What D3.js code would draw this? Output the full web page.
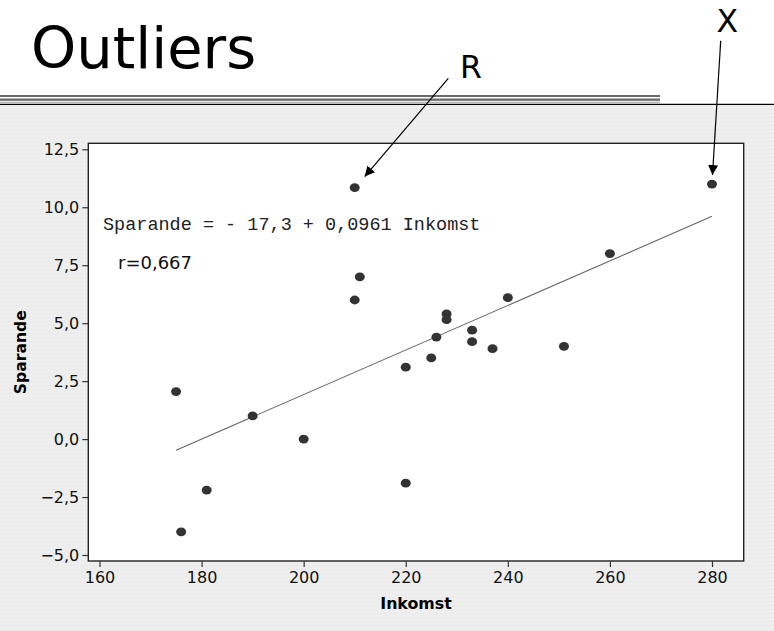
<!DOCTYPE html>
<html>
<head>
<meta charset="utf-8">
<script src="https://cdn.jsdelivr.net/npm/d3@7"></script>
<style>
  html, body { margin: 0; padding: 0; background: #fff; }
  svg { display: block; }
</style>
</head>
<body>
<div id="chart"></div>
<script>
// data
var inkomst  = [175, 190, 181, 176, 200, 220, 220, 210, 211, 210, 228, 228, 226, 233, 233, 237, 225, 240, 260, 251, 280];
var sparande = [2.05, 1.0, -2.2, -4.0, 0.0, -1.9, 3.1, 10.85, 7.0, 6.0, 5.4, 5.15, 4.4, 4.7, 4.2, 3.9, 3.5, 6.1, 8.0, 4.0, 11.0];
var xTicks = [160, 180, 200, 220, 240, 260, 280];
var yTicks = [-5, -2.5, 0, 2.5, 5, 7.5, 10, 12.5];
var intercept = -17.3, slope = 0.0961;
var fitRange = [175, 280];
// outliers pointed at by the arrows
var outliers = [{label: 'R', x: 210, y: 10.85}, {label: 'X', x: 280, y: 11.0}];

var W = 774, H = 631;
var fmt = function (v) { return d3.format('.1f')(v).replace('.', ','); };

var svg = d3.select('#chart').append('svg')
  .attr('width', W).attr('height', H);

var defs = svg.append('defs');
var pat = defs.append('pattern').attr('id', 'dots')
  .attr('width', 4).attr('height', 4).attr('patternUnits', 'userSpaceOnUse');
pat.append('rect').attr('width', 4).attr('height', 4).attr('fill', '#eeeeee');
pat.append('rect').attr('x', 1).attr('y', 1).attr('width', 1).attr('height', 1).attr('fill', '#e4e4e4');
defs.append('marker').attr('id', 'arrow')
  .attr('viewBox', '0 0 10 10').attr('refX', 10).attr('refY', 5)
  .attr('markerWidth', 10).attr('markerHeight', 10)
  .attr('markerUnits', 'userSpaceOnUse')
  .attr('orient', 'auto')
  .append('path').attr('d', 'M0,0 L10,5 L0,10 Z').attr('fill', '#000');

// slide background
svg.append('rect').attr('width', W).attr('height', H).attr('fill', '#fff');
svg.append('rect').attr('y', 105).attr('width', W).attr('height', H - 105).attr('fill', 'url(#dots)');

// header rule
svg.append('rect').attr('x', 0).attr('y', 95).attr('width', 660).attr('height', 2).attr('fill', '#6a6a6a');
svg.append('rect').attr('x', 0).attr('y', 98.5).attr('width', 660).attr('height', 2.3).attr('fill', '#6a6a6a');
svg.append('rect').attr('x', 0).attr('y', 101.8).attr('width', 660).attr('height', 0.8).attr('fill', '#888');
svg.append('line').attr('x1', 0).attr('x2', W).attr('y1', 104.3).attr('y2', 104.3)
  .attr('stroke', '#000').attr('stroke-width', 1.3);

svg.append('text')
  .attr('x', 31).attr('y', 68)
  .attr('font-family', 'DejaVu Sans, Verdana, sans-serif')
  .attr('font-size', 57.5)
  .attr('fill', '#000')
  .text('Outliers');

// plot
var x = d3.scaleLinear().domain([160, 280]).range([99.5, 712]);
var y = d3.scaleLinear().domain([-5, 12.5]).range([555, 149.3]);
var frame = {l: 88.3, r: 743.7, t: 143.3, b: 561};

svg.append('rect')
  .attr('x', frame.l).attr('y', frame.t)
  .attr('width', frame.r - frame.l).attr('height', frame.b - frame.t)
  .attr('fill', '#fff').attr('stroke', '#222').attr('stroke-width', 1.4);

var xAxis = svg.append('g')
  .attr('transform', 'translate(0,' + frame.b + ')')
  .call(d3.axisBottom(x).tickValues(xTicks).tickSize(6).tickPadding(5));
var yAxis = svg.append('g')
  .attr('transform', 'translate(' + frame.l + ',0)')
  .call(d3.axisLeft(y).tickValues(yTicks).tickFormat(fmt).tickSize(6).tickPadding(3));
[xAxis, yAxis].forEach(function (a) {
  a.select('.domain').remove();
  a.selectAll('line').attr('stroke', '#333').attr('stroke-width', 1.2);
  a.selectAll('text')
    .attr('font-family', 'DejaVu Sans, Verdana, sans-serif')
    .attr('font-size', 16).attr('fill', '#111');
});

svg.append('text')
  .attr('x', (frame.l + frame.r) / 2).attr('y', 609)
  .attr('text-anchor', 'middle')
  .attr('font-family', 'DejaVu Sans, Tahoma, sans-serif')
  .attr('font-size', 15.8).attr('font-weight', 'bold').attr('fill', '#000')
  .text('Inkomst');
svg.append('text')
  .attr('transform', 'translate(25.5,' + (frame.t + frame.b) / 2 + ') rotate(-90)')
  .attr('text-anchor', 'middle')
  .attr('font-family', 'DejaVu Sans, Tahoma, sans-serif')
  .attr('font-size', 15.6).attr('font-weight', 'bold').attr('fill', '#000')
  .text('Sparande');

// fitted line
svg.append('line')
  .attr('x1', x(fitRange[0])).attr('y1', y(intercept + slope * fitRange[0]))
  .attr('x2', x(fitRange[1])).attr('y2', y(intercept + slope * fitRange[1]))
  .attr('stroke', '#666').attr('stroke-width', 1.1);

svg.append('g').selectAll('ellipse')
  .data(d3.zip(inkomst, sparande))
  .join('ellipse')
  .attr('cx', function (d) { return x(d[0]); })
  .attr('cy', function (d) { return y(d[1]); })
  .attr('rx', 5).attr('ry', 4.4)
  .attr('fill', '#333');

svg.append('text')
  .attr('x', 103).attr('y', 230)
  .attr('font-family', 'Liberation Mono, Courier New, monospace')
  .attr('font-size', 18.5).attr('fill', '#222')
  .attr('xml:space', 'preserve')
  .text('Sparande = - 17,3 + 0,0961 Inkomst');
svg.append('text')
  .attr('x', 118).attr('y', 269)
  .attr('font-family', 'DejaVu Sans, Verdana, sans-serif')
  .attr('font-size', 18).attr('fill', '#111')
  .text('r=0,667');

// outlier annotations: label position and arrow start relative to the point
var notes = [
  {lx: 460, ly: 78, sx: 448.3, sy: 78.3, dx: 10, dy: -11},
  {lx: 716.5, ly: 31.7, sx: 720.7, sy: 40.7, dx: 0.5, dy: -9}
];
outliers.forEach(function (o, i) {
  var n = notes[i];
  svg.append('line')
    .attr('x1', n.sx).attr('y1', n.sy)
    .attr('x2', x(o.x) + n.dx).attr('y2', y(o.y) + n.dy)
    .attr('stroke', '#000').attr('stroke-width', 1.2)
    .attr('marker-end', 'url(#arrow)');
  svg.append('text')
    .attr('x', n.lx).attr('y', n.ly)
    .attr('font-family', 'DejaVu Sans, Verdana, sans-serif')
    .attr('font-size', 31.5).attr('fill', '#000')
    .text(o.label);
});
</script>
</body>
</html>
